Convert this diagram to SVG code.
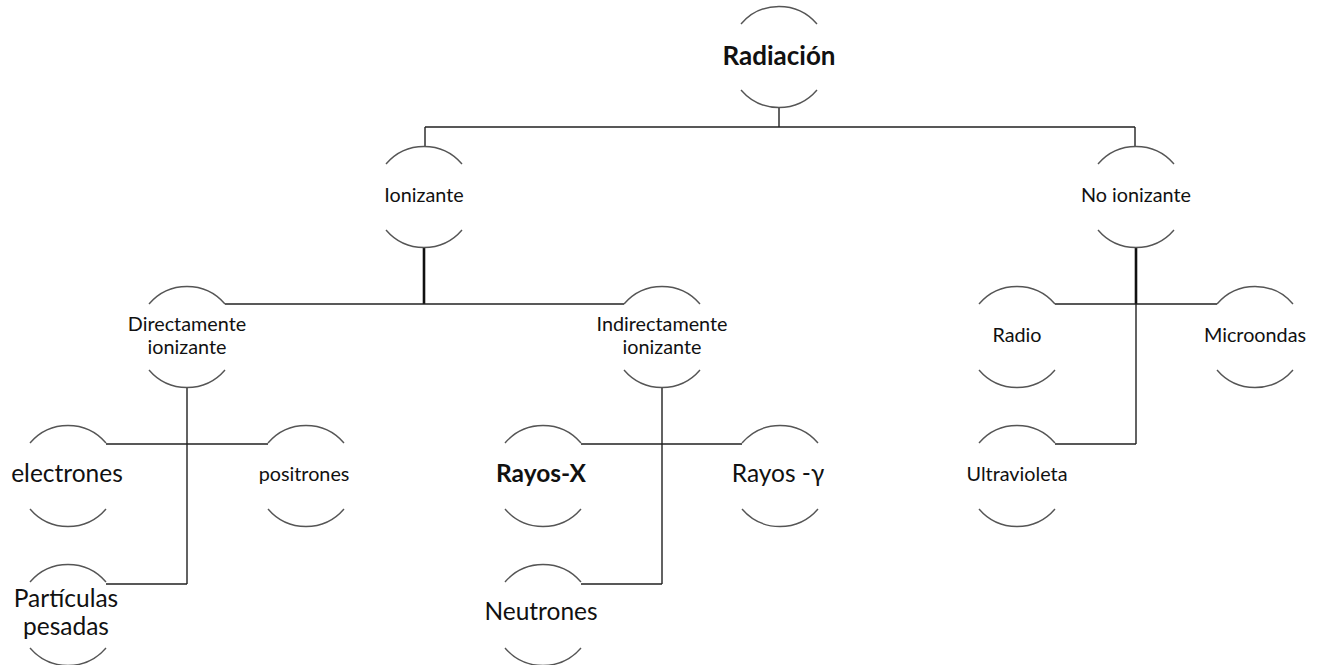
<svg xmlns="http://www.w3.org/2000/svg" xmlns:xlink="http://www.w3.org/1999/xlink" width="1317" height="665" viewBox="0 0 1317 665">
<style>
.arc{fill:none;stroke:#555;stroke-width:1.4}
.ln{fill:none;stroke:#222;stroke-width:1.4}
.thick{fill:none;stroke:#111;stroke-width:2.6}
text{font-family:Lato,"Liberation Sans",sans-serif;fill:#111;text-anchor:middle}
.t21{font-size:19.8px}
.t26{font-size:24.5px}
.b{font-weight:bold}
</style>
<defs>
<path id="arcs" class="arc" d="M-38 -33 A50 50 0 0 1 38 -33 M-38 33 A50 50 0 0 0 38 33"/>
</defs>
<rect width="1317" height="665" fill="#fff"/>
<g id="connectors">
<path class="ln" d="M779 107V127M425 127H1135M425 127V147M1135 127V147"/>
<path class="thick" d="M424 247V304M1136 247V304"/>
<path class="ln" d="M225 304H624"/>
<path class="ln" d="M187 387V584M106 444H268M106 584H187"/>
<path class="ln" d="M662 387V584M581 444H742M581 584H662"/>
<path class="ln" d="M1136 304V444M1055 304H1217M1055 444H1136"/>
</g>
<g id="radiacion" transform="translate(779,57)"><use xlink:href="#arcs"/><text y="8" class="b" style="font-size:26px">Radiación</text></g>
<g id="ionizante" transform="translate(424,197)"><use xlink:href="#arcs"/><text y="5" class="t21">Ionizante</text></g>
<g id="no-ionizante" transform="translate(1136,197)"><use xlink:href="#arcs"/><text y="5" class="t21">No ionizante</text></g>
<g id="directamente" transform="translate(187,337)"><use xlink:href="#arcs"/><text y="-6" class="t21">Directamente</text><text y="17" class="t21">ionizante</text></g>
<g id="indirectamente" transform="translate(662,337)"><use xlink:href="#arcs"/><text y="-6" class="t21">Indirectamente</text><text y="17" class="t21">ionizante</text></g>
<g id="radio" transform="translate(1017,337)"><use xlink:href="#arcs"/><text y="5" class="t21">Radio</text></g>
<g id="microondas" transform="translate(1255,337)"><use xlink:href="#arcs"/><text y="5" class="t21">Microondas</text></g>
<g id="electrones" transform="translate(68,476)"><use xlink:href="#arcs"/><text x="-1" y="6" class="t26">electrones</text></g>
<g id="positrones" transform="translate(306,476)"><use xlink:href="#arcs"/><text x="-2" y="5" class="t21">positrones</text></g>
<g id="rayos-x" transform="translate(543,476)"><use xlink:href="#arcs"/><text x="-2" y="6" class="t26 b">Rayos-X</text></g>
<g id="rayos-gamma" transform="translate(780,476)"><use xlink:href="#arcs"/><text x="-2" y="6" class="t26">Rayos -γ</text></g>
<g id="ultravioleta" transform="translate(1017,476)"><use xlink:href="#arcs"/><text y="5" class="t21">Ultravioleta</text></g>
<g id="particulas" transform="translate(68,615)"><use xlink:href="#arcs"/><text x="-2" y="-8" class="t26">Partículas</text><text x="-2" y="20" class="t26">pesadas</text></g>
<g id="neutrones" transform="translate(543,615)"><use xlink:href="#arcs"/><text x="-2" y="5" class="t26">Neutrones</text></g>
</svg>
